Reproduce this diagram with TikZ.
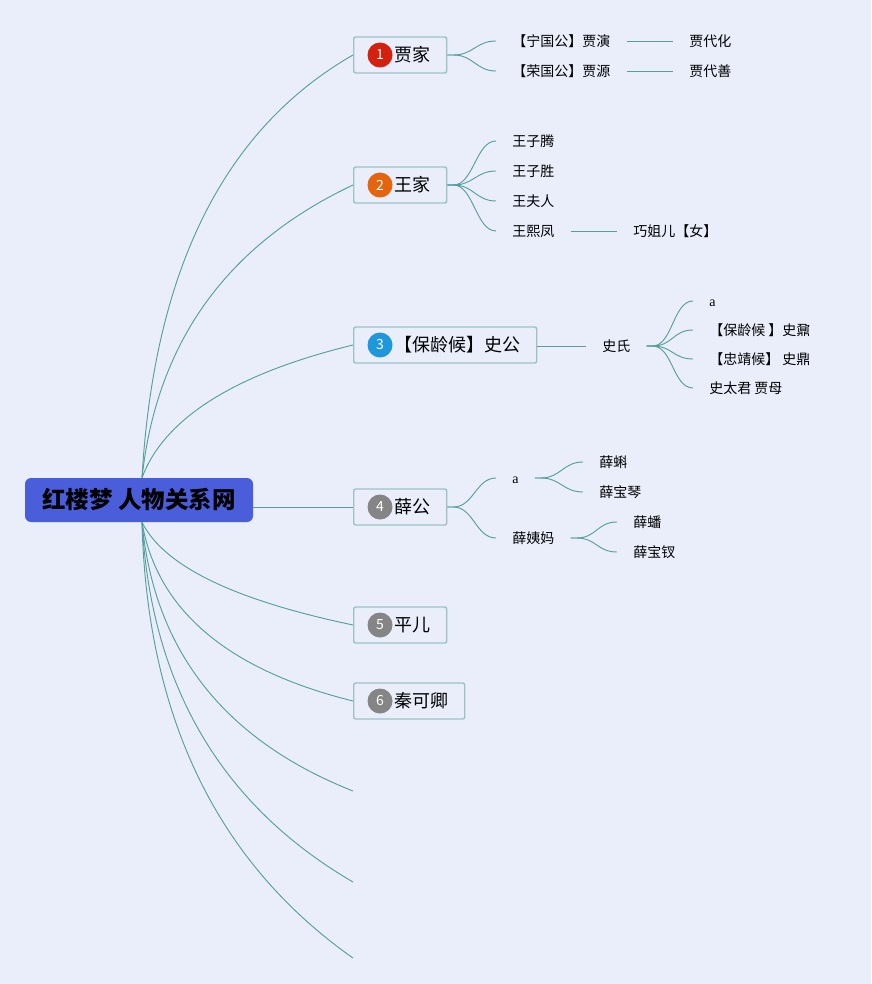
\documentclass[tikz,border=0pt]{standalone}
\usepackage{fontspec}
\newfontfamily\cjk{Noto Sans CJK SC}
\newfontfamily\lat{Liberation Serif}
\definecolor{bg}{HTML}{EAEEFB}
\definecolor{connc}{HTML}{559F9C}
\definecolor{boxline}{HTML}{9CC2C8}
\definecolor{rootblue}{HTML}{4A5EDC}
\definecolor{cred}{HTML}{D4200C}
\definecolor{corange}{HTML}{E5650F}
\definecolor{cblue}{HTML}{1F97DC}
\definecolor{cgray}{HTML}{858585}
\begin{document}
\begin{tikzpicture}[x=0.75pt,y=-0.75pt,
  conn/.style={draw=connc, line width=0.7pt},
  rootbox/.style={fill=rootblue, rounded corners=4.5pt, minimum width=171pt, minimum height=33pt, inner sep=0pt,
    font=\cjk\bfseries\fontsize{17.6}{20}\selectfont, text=black, text height=15.5pt, text depth=2.1pt},
  l1/.style={draw=boxline, line width=1.1pt, rounded corners=1.5pt, fill=bg, anchor=west, minimum height=27pt,
    inner xsep=12pt, inner ysep=0pt, font=\cjk\fontsize{13.5}{16}\selectfont, text height=11.9pt, text depth=1.6pt},
  badge/.style={circle, minimum size=18.75pt, inner sep=0pt, text=white, font=\cjk\fontsize{10.5}{12}\selectfont},
  l2/.style={anchor=west, inner xsep=12pt, inner ysep=2pt, font=\cjk\fontsize{10.5}{12}\selectfont,
    text height=9.2pt, text depth=1.3pt},
  fan/.style={conn},
]
\useasboundingbox[fill=bg] (0,0) rectangle (871,984);

% root
\node[rootbox] (root) at (139,500) {红楼梦 人物关系网};
\coordinate (rt) at ([xshift=2.25pt]root.north);
\coordinate (rb) at ([xshift=2.25pt]root.south);

% level 1 boxes
\node[l1] (b1) at (353,55) {\hspace*{18.75pt}贾家};
\node[badge, fill=cred] (n1) at ([shift={(27,0)}]b1.west) {1};
\node[l1] (b2) at (353,185) {\hspace*{18.75pt}王家};
\node[badge, fill=corange] (n2) at ([shift={(27,0)}]b2.west) {2};
\node[l1] (b3) at (353,345) {\hspace*{18.75pt}【保龄候】史公};
\node[badge, fill=cblue] (n3) at ([shift={(27,0)}]b3.west) {3};
\node[l1] (b4) at (353,507) {\hspace*{18.75pt}薛公};
\node[badge, fill=cgray] (n4) at ([shift={(27,0)}]b4.west) {4};
\node[l1] (b5) at (353,625) {\hspace*{18.75pt}平儿};
\node[badge, fill=cgray] (n5) at ([shift={(27,0)}]b5.west) {5};
\node[l1] (b6) at (353,701) {\hspace*{18.75pt}秦可卿};
\node[badge, fill=cgray] (n6) at ([shift={(27,0)}]b6.west) {6};
\coordinate (e7) at (353,791);
\coordinate (e8) at (353,882);
\coordinate (e9) at (353,958);

% root connectors
\draw[conn] (rt) .. controls +(12,-208) and +(-129,74) .. (b1.west);
\draw[conn] (rt) .. controls +(15,-137) and +(-125,59) .. (b2.west);
\draw[conn] (rt) .. controls +(22,-59) and +(-119,29) .. (b3.west);
\draw[conn] (root.east |- b4.west) -- (b4.west);
\draw[conn] (rb) .. controls +(22,44) and +(-119,-25) .. (b5.west);
\draw[conn] (rb) .. controls +(15,88) and +(-125,-31) .. (b6.west);
\draw[conn] (rb) .. controls +(12,128) and +(-129,-51) .. (e7);
\draw[conn] (rb) .. controls +(9,163) and +(-132,-77) .. (e8);
\draw[conn] (rb) .. controls +(5,196) and +(-135,-95) .. (e9);

% 贾家
\node[l2] (ng1) at (496,41) {【宁国公】贾演};
\node[l2] (ng2) at (496,71) {【荣国公】贾源};
\node[l2] (jd1) at (673,41) {贾代化};
\node[l2] (jd2) at (673,71) {贾代善};
\foreach \c in {ng1,ng2} \draw[fan] (b1.east) -- ++(6,0) .. controls +(20,0) and +(-20,0) .. (\c.west);
\draw[conn] (ng1.east) -- (jd1.west);
\draw[conn] (ng2.east) -- (jd2.west);

% 王家
\node[l2] (w1) at (496,141) {王子腾};
\node[l2] (w2) at (496,171) {王子胜};
\node[l2] (w3) at (496,201) {王夫人};
\node[l2] (w4) at (496,231) {王熙凤};
\node[l2] (qj) at (617,231) {巧姐儿【女】};
\foreach \c in {w1,w2,w3,w4} \draw[fan] (b2.east) -- ++(6,0) .. controls +(20,0) and +(-20,0) .. (\c.west);
\draw[conn] (w4.east) -- (qj.west);

% 史公
\node[l2] (shi) at (586,346) {史氏};
\draw[conn] (b3.east |- shi.west) -- (shi.west);
\node[l2, font=\lat\fontsize{10.5}{12}\selectfont] (s1) at (693,301) {a};
\node[l2] (s2) at (693,330) {【保龄候 】史鼐};
\node[l2] (s3) at (693,359) {【忠靖候】 史鼎};
\node[l2] (s4) at (693,388) {史太君 贾母};
\foreach \c in {s1,s2,s3,s4} \draw[fan] (shi.east) -- ++(6,0) .. controls +(20,0) and +(-20,0) .. (\c.west);

% 薛公
\node[l2, font=\lat\fontsize{10.5}{12}\selectfont] (xa) at (496,478) {a};
\node[l2] (xy) at (496,538) {薛姨妈};
\foreach \c in {xa,xy} \draw[fan] (b4.east) -- ++(6,0) .. controls +(20,0) and +(-20,0) .. (\c.west);
\node[l2] (xk) at (583,462) {薛蝌};
\node[l2] (xq) at (583,492) {薛宝琴};
\foreach \c in {xk,xq} \draw[fan] (xa.east) -- ++(6,0) .. controls +(20,0) and +(-20,0) .. (\c.west);
\node[l2] (xp) at (617,522) {薛蟠};
\node[l2] (xc) at (617,552) {薛宝钗};
\foreach \c in {xp,xc} \draw[fan] (xy.east) -- ++(6,0) .. controls +(20,0) and +(-20,0) .. (\c.west);
\end{tikzpicture}
\end{document}
